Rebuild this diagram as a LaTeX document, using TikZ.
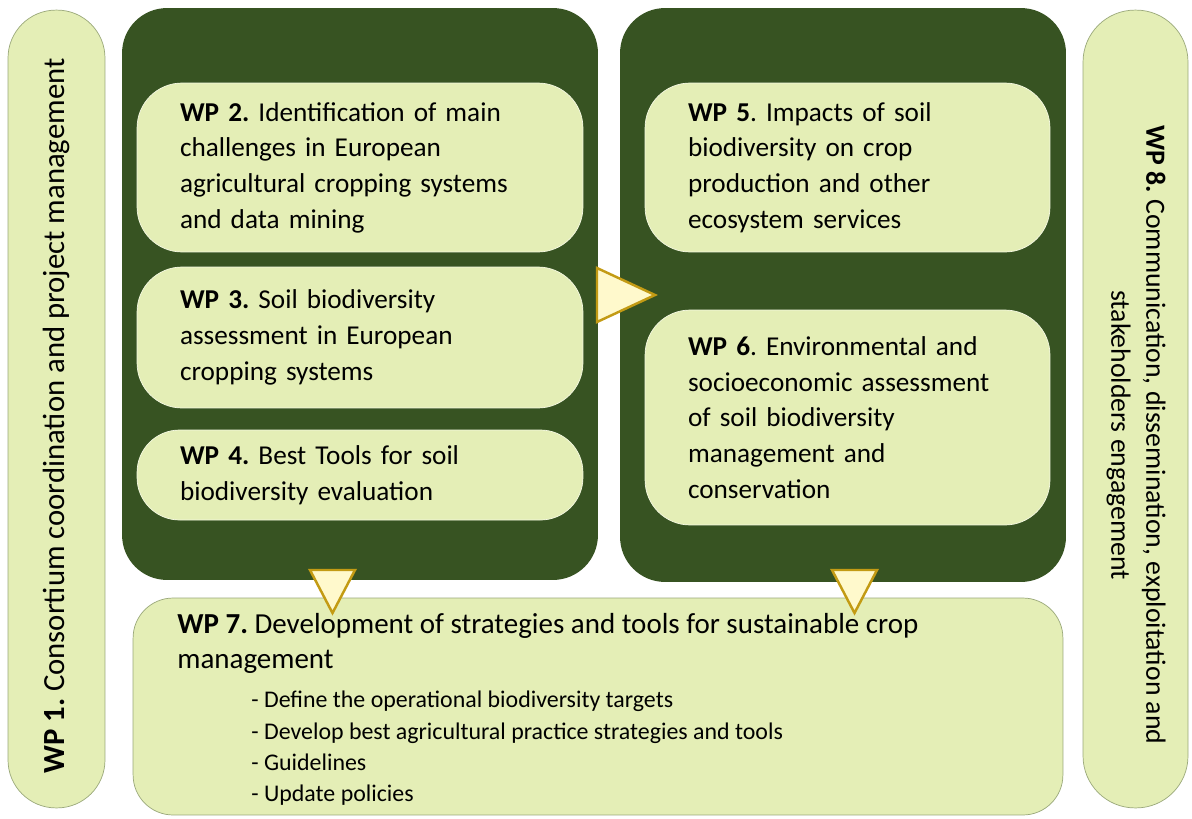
\documentclass[tikz,border=0pt]{standalone}
\usepackage{fontspec}
\setmainfont{Carlito}
\usetikzlibrary{positioning}

\definecolor{leaf}{HTML}{E4EEB6}
\definecolor{forest}{HTML}{375322}
\definecolor{rim}{HTML}{9AA87A}
\definecolor{cream}{HTML}{FFF9CC}
\definecolor{gold}{HTML}{C39B14}

\begin{document}
\frenchspacing
\begin{tikzpicture}[x=0.02cm, y=-0.02cm,
   pill/.style={draw=rim, fill=leaf, rectangle, minimum width=#1},
   panel/.style={fill=forest, rectangle, rounded corners=0.9cm},
   wpbox/.style={fill=leaf, draw=white!60!leaf, rectangle, rounded corners=0.9cm, align=left, font=\fontsize{15.5}{20.3}\selectfont},
   sidetext/.style={align=center, font=\fontsize{15.8}{19.9}\selectfont},
   marker/.style={draw=gold, fill=cream, line width=1.4pt, line join=miter}
]
\useasboundingbox (0,0) rectangle (1192,818);

% Side pills
\node [pill=1.94cm, minimum height=15.96cm, rounded corners=0.96cm] (wp1) at (56.5,409) {};
\node [pill=2.1cm, minimum height=15.96cm, rounded corners=1.04cm] (wp8) at (1135.5,409) {};
\node [sidetext, rotate=90, font=\fontsize{17.5}{20}\selectfont] (wp1text) at (56.5,416) {\textbf{WP 1.} Consortium coordination and project management};
\node [sidetext, rotate=-90] (wp8text) at (1136,435) {\textbf{WP 8.} Communication, dissemination, exploitation and\\stakeholders engagement};

% Dark panels
\node [panel, minimum width=9.52cm, minimum height=11.44cm] (leftpanel) at (360,294) {};
\node [panel, minimum width=8.92cm, minimum height=11.48cm] (rightpanel) at (843,295) {};

% Work packages
\node [wpbox, minimum width=8.92cm, minimum height=3.38cm, text width=7.2cm] (wp2) at (360,167.5)
   {\textbf{WP 2.} Identification of main\\challenges in European\\agricultural cropping systems\\and data mining};
\node [wpbox, minimum width=8.92cm, minimum height=2.82cm, text width=7.2cm] (wp3) at (360,337.5)
   {\textbf{WP 3.} Soil biodiversity\\assessment in European\\cropping systems};
\node [wpbox, minimum width=8.92cm, minimum height=1.8cm, text width=7.2cm, rounded corners=0.85cm] (wp4) at (360,475)
   {\textbf{WP 4.} Best Tools for soil\\biodiversity evaluation};
\node [wpbox, minimum width=8.1cm, minimum height=3.38cm, text width=6.38cm] (wp5) at (847.5,167.5)
   {\textbf{WP 5}. Impacts of soil\\biodiversity on crop\\production and other\\ecosystem services};
\node [wpbox, minimum width=8.1cm, minimum height=4.3cm, text width=6.38cm] (wp6) at (847.5,417.5)
   {\textbf{WP 6}. Environmental and\\socioeconomic assessment\\of soil biodiversity\\management and\\conservation};

% WP 7
\node [wpbox, draw=rim, rounded corners=0.8cm, minimum width=18.6cm, minimum height=4.34cm] (wp7) at (598,706.5) {};
\node [align=left, anchor=north west, inner sep=0pt, font=\fontsize{16.5}{19.9}\selectfont] (wp7title) at (177,613)
   {\textbf{WP 7.} Development of strategies and tools for sustainable crop\\management};
\node [align=left, anchor=north west, inner sep=0pt, font=\fontsize{13.6}{17.8}\selectfont] (wp7list) at (251,691)
   {- Define the operational biodiversity targets\\- Develop best agricultural practice strategies and tools\\- Guidelines\\- Update policies};

% Markers
\draw [marker] (597,268) -- (655,295) -- (597,322) -- cycle;
\draw [marker] (310,570) -- (355,570) -- (332.5,613) -- cycle;
\draw [marker] (832,570) -- (877,570) -- (854.5,613) -- cycle;
\end{tikzpicture}
\end{document}
